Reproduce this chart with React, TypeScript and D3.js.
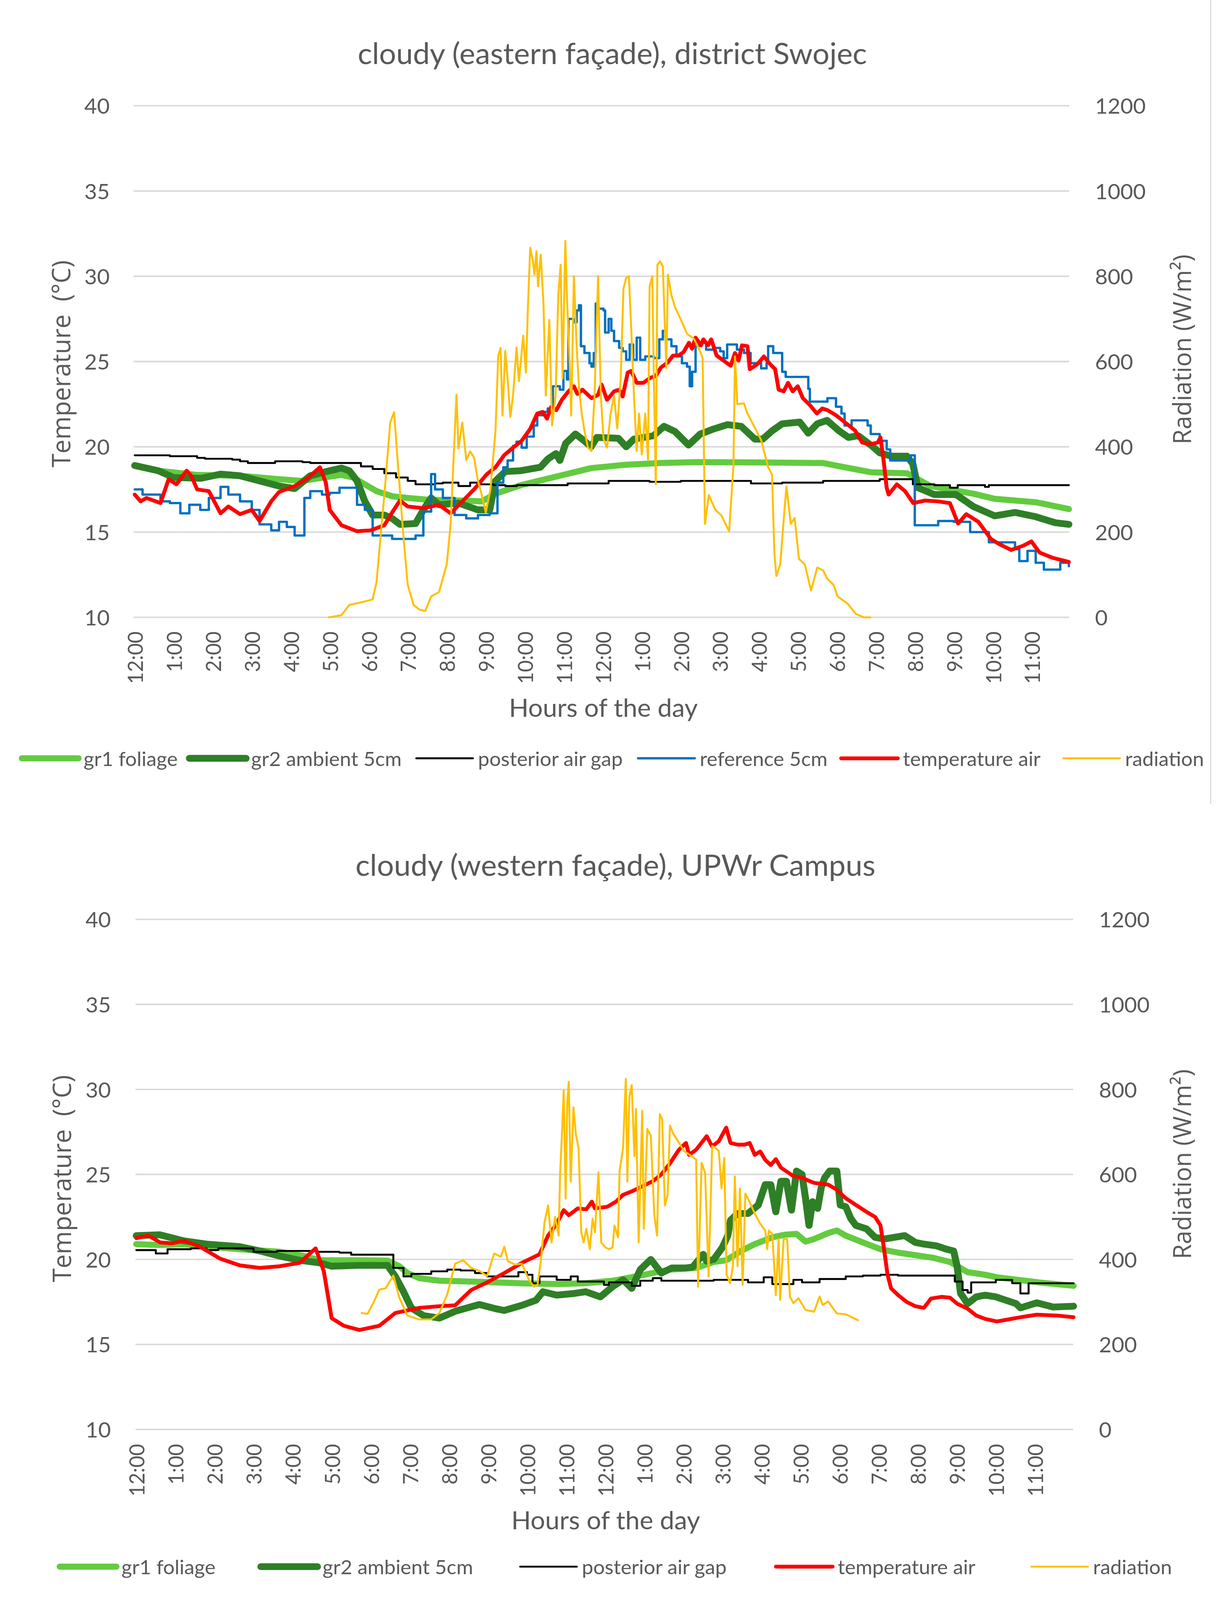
import React from 'react';
import * as d3 from 'd3';

type Pt = [number, number];

// shared axis values
const hourLabels = [
  '12:00', '1:00', '2:00', '3:00', '4:00', '5:00', '6:00', '7:00', '8:00', '9:00', '10:00', '11:00',
  '12:00', '1:00', '2:00', '3:00', '4:00', '5:00', '6:00', '7:00', '8:00', '9:00', '10:00', '11:00',
];
const tempTicks = [10, 15, 20, 25, 30, 35, 40];
const radTicks = [0, 200, 400, 600, 800, 1000, 1200];

// ---- eastern facade, district Swojec: [hour, value]
const eastFoliage: Pt[] = [
  [0, 18.9], [0.6, 18.6], [1.6, 18.35], [2.7, 18.3], [3.7, 18.1], [4.3, 18.0], [4.7, 18.15], [5.3, 18.35],
  [5.6, 18.2], [5.9, 17.8], [6.2, 17.4], [6.6, 17.1], [7.0, 17.0], [7.5, 16.9], [8.3, 16.85], [8.9, 16.8],
  [9.25, 17.25], [9.9, 17.75], [10.8, 18.25], [11.7, 18.75], [12.6, 18.95], [13.5, 19.05], [14.4, 19.1],
  [16.2, 19.08], [17.65, 19.05], [18.2, 18.8], [18.9, 18.5], [19.8, 18.45], [20.0, 18.2], [20.4, 17.7],
  [21.0, 17.45], [21.5, 17.25], [22.05, 16.95], [23.1, 16.75], [23.95, 16.35],
];
const eastAmbient: Pt[] = [
  [0, 18.9], [0.6, 18.6], [1.0, 18.2], [1.7, 18.15], [2.2, 18.4], [2.7, 18.3], [3.2, 18.0], [3.7, 17.7],
  [4.1, 17.55], [4.5, 18.3], [5.0, 18.6], [5.3, 18.75], [5.5, 18.6], [5.7, 18.0], [5.9, 16.8], [6.1, 16.0],
  [6.4, 16.0], [6.6, 15.8], [6.8, 15.45], [7.2, 15.5], [7.4, 16.3], [7.6, 17.0], [7.8, 16.6], [8.3, 16.7],
  [8.8, 16.3], [9.1, 16.3], [9.25, 18.0], [9.5, 18.55], [9.9, 18.6], [10.4, 18.8], [10.6, 19.3], [10.8, 19.6],
  [10.9, 19.2], [11.05, 20.2], [11.3, 20.75], [11.5, 20.4], [11.7, 20.0], [11.85, 20.55], [12.4, 20.5],
  [12.6, 20.0], [12.8, 20.45], [13.3, 20.65], [13.57, 21.2], [13.85, 20.9], [14.2, 20.1], [14.5, 20.75],
  [14.85, 21.05], [15.2, 21.3], [15.55, 21.2], [15.9, 20.45], [16.1, 20.45], [16.35, 20.95], [16.6, 21.35],
  [17.05, 21.45], [17.27, 20.8], [17.5, 21.35], [17.75, 21.55], [18.05, 20.95], [18.3, 20.55], [18.55, 20.65],
  [18.9, 20.05], [19.1, 19.65], [19.4, 19.45], [19.8, 19.45], [19.95, 19.0], [20.08, 17.6], [20.5, 17.2],
  [21.06, 17.2], [21.5, 16.5], [22.05, 15.95], [22.57, 16.15], [23.1, 15.9], [23.6, 15.55], [23.95, 15.45],
];
const eastAirGap: Pt[] = [
  [0, 19.5], [0.9, 19.45], [1.6, 19.35], [1.8, 19.3], [2.5, 19.25], [2.7, 19.15], [2.9, 19.05], [3.4, 19.05],
  [3.6, 19.15], [4.3, 19.1], [4.5, 19.05], [5.5, 19.05], [5.8, 18.85], [6.1, 18.7], [6.4, 18.45], [6.7, 18.2],
  [7.0, 18.0], [7.2, 17.8], [7.7, 17.85], [7.9, 17.9], [8.3, 17.7], [8.6, 17.9], [8.8, 17.8], [9.2, 17.75],
  [9.5, 17.7], [9.8, 17.75], [11.1, 17.85], [12.15, 18.0], [13.2, 17.95], [14.0, 18.0], [15.8, 17.85],
  [16.6, 17.9], [17.65, 18.0], [19.1, 18.1], [19.95, 17.8], [20.5, 17.75], [20.9, 17.6], [21.1, 17.75],
  [21.8, 17.65], [21.9, 17.75], [23.95, 17.75],
];
const eastReference: Pt[] = [
  [0, 17.5], [0.2, 17.2], [0.66, 16.8], [0.9, 16.7], [1.17, 16.1], [1.4, 16.6], [1.68, 16.3], [1.9, 17.0],
  [2.2, 17.65], [2.4, 17.2], [2.7, 16.8], [3.0, 16.3], [3.2, 15.45], [3.5, 15.1], [3.7, 15.6], [3.9, 15.3],
  [4.1, 14.8], [4.35, 17.0], [4.5, 17.4], [4.8, 17.2], [5.0, 17.3], [5.25, 17.6], [5.45, 17.6], [5.7, 16.6],
  [5.9, 16.3], [6.1, 14.8], [6.6, 14.6], [7.2, 14.8], [7.4, 16.2], [7.6, 18.4], [7.7, 17.5], [7.9, 17.0],
  [8.2, 16.0], [8.5, 15.8], [8.8, 16.0], [9.1, 16.1], [9.3, 17.9], [9.45, 18.8], [9.56, 19.2], [9.7, 20.05],
  [9.79, 20.3], [9.92, 19.95], [10.05, 20.6], [10.23, 21.25], [10.32, 21.85], [10.46, 22.05], [10.59, 22.25],
  [10.72, 23.55], [10.9, 23.35], [10.99, 24.45], [11.08, 23.95], [11.12, 27.5], [11.26, 27.3], [11.33, 28.0],
  [11.39, 28.3], [11.44, 25.9], [11.53, 25.5], [11.66, 24.9], [11.71, 24.7], [11.77, 25.5], [11.82, 28.4],
  [11.88, 28.1], [12.02, 28.0], [12.06, 26.7], [12.15, 27.5], [12.22, 26.8], [12.29, 26.2], [12.42, 25.8],
  [12.51, 25.6], [12.6, 25.1], [12.69, 26.0], [12.78, 25.1], [12.87, 26.4], [12.96, 25.1], [13.09, 25.3],
  [13.31, 25.2], [13.45, 26.3], [13.54, 26.8], [13.63, 26.3], [13.76, 25.9], [13.89, 25.3], [14.03, 24.9],
  [14.16, 24.7], [14.23, 23.55], [14.29, 24.4], [14.38, 25.9], [14.47, 26.1], [14.65, 25.7], [14.83, 25.8],
  [15.01, 25.6], [15.1, 25.2], [15.19, 26.0], [15.44, 25.7], [15.62, 25.5], [15.79, 24.9], [16.06, 24.6],
  [16.2, 24.9], [16.24, 25.9], [16.37, 25.5], [16.53, 25.5], [16.6, 24.4], [16.69, 24.1], [17.18, 24.1],
  [17.27, 23.4], [17.31, 22.65], [17.76, 22.85], [17.98, 22.35], [18.12, 21.95], [18.2, 21.25], [18.38, 21.55],
  [18.61, 21.55], [18.79, 21.25], [18.87, 20.75], [19.1, 20.35], [19.28, 19.85], [19.37, 19.2], [19.77, 19.2],
  [19.9, 19.5], [20.0, 15.4], [20.48, 15.4], [20.6, 15.65], [21.0, 15.6], [21.42, 15.0], [21.9, 14.4],
  [22.57, 14.0], [22.68, 13.3], [22.89, 13.9], [23.1, 13.2], [23.31, 12.8], [23.73, 13.2], [23.95, 13.0],
];
const eastAir: Pt[] = [
  [0, 17.2], [0.15, 16.8], [0.3, 17.0], [0.66, 16.7], [0.87, 18.1], [1.07, 17.8], [1.33, 18.6], [1.45, 18.3],
  [1.6, 17.5], [1.9, 17.4], [2.2, 16.1], [2.4, 16.5], [2.7, 16.05], [3.0, 16.3], [3.2, 15.65], [3.5, 16.8],
  [3.7, 17.35], [4.1, 17.7], [4.4, 18.1], [4.75, 18.8], [4.9, 17.9], [5.0, 16.3], [5.3, 15.4], [5.7, 15.05],
  [6.05, 15.1], [6.4, 15.4], [6.6, 16.15], [6.8, 16.85], [7.0, 16.5], [7.4, 16.4], [7.8, 16.6], [8.1, 16.1],
  [8.4, 16.8], [8.7, 17.5], [9.03, 18.4], [9.25, 18.8], [9.47, 19.5], [9.7, 19.95], [9.92, 20.35], [10.14, 21.05],
  [10.32, 21.95], [10.46, 22.05], [10.57, 21.65], [10.68, 22.35], [10.81, 22.15], [10.95, 22.75], [11.12, 23.25],
  [11.26, 23.55], [11.35, 23.1], [11.48, 23.35], [11.71, 22.85], [11.88, 23.05], [11.97, 23.65], [12.11, 22.75],
  [12.29, 23.25], [12.42, 23.35], [12.51, 22.95], [12.64, 24.35], [12.73, 24.45], [12.87, 23.75], [13.04, 23.75],
  [13.22, 24.05], [13.36, 24.15], [13.49, 24.65], [13.67, 24.95], [13.8, 25.35], [13.94, 25.35], [14.07, 25.55],
  [14.21, 26.1], [14.29, 25.75], [14.38, 26.4], [14.52, 25.95], [14.58, 26.3], [14.7, 25.95], [14.78, 26.3],
  [14.92, 25.35], [15.1, 25.05], [15.28, 24.75], [15.39, 25.5], [15.48, 25.05], [15.57, 25.95], [15.71, 25.9],
  [15.77, 24.55], [15.97, 24.85], [16.13, 25.3], [16.29, 24.85], [16.42, 24.55], [16.51, 23.35], [16.64, 23.25],
  [16.75, 23.75], [16.87, 23.25], [17.0, 23.55], [17.13, 22.85], [17.31, 22.45], [17.49, 21.95], [17.63, 22.25],
  [17.76, 22.15], [17.98, 21.85], [18.2, 21.45], [18.47, 20.95], [18.65, 20.25], [18.87, 20.15], [19.05, 20.25],
  [19.12, 20.55], [19.2, 19.2], [19.28, 17.6], [19.33, 17.2], [19.54, 17.8], [19.75, 17.4], [19.96, 16.7],
  [20.27, 16.85], [20.59, 16.8], [20.9, 16.7], [21.11, 15.5], [21.32, 16.05], [21.63, 15.6], [21.95, 14.6],
  [22.16, 14.3], [22.47, 13.95], [22.78, 14.2], [22.99, 14.45], [23.2, 13.8], [23.52, 13.5], [23.95, 13.25],
];
const eastRadiation: Pt[] = [
  [4.98, 0], [5.3, 5], [5.5, 29], [5.8, 35], [6.1, 42], [6.2, 83], [6.4, 287], [6.55, 457], [6.65, 481],
  [6.75, 355], [6.9, 178], [7.0, 76], [7.15, 29], [7.3, 18], [7.45, 15], [7.6, 49], [7.8, 59], [8.0, 124],
  [8.1, 219], [8.2, 423], [8.25, 522], [8.3, 396], [8.4, 457], [8.5, 369], [8.6, 389], [8.7, 375], [8.8, 320],
  [8.89, 290], [9.0, 246], [9.12, 300], [9.25, 438], [9.32, 613], [9.38, 632], [9.43, 473], [9.5, 625],
  [9.56, 560], [9.63, 470], [9.7, 520], [9.79, 633], [9.85, 554], [9.92, 621], [9.96, 661], [10.03, 574],
  [10.08, 725], [10.14, 867], [10.21, 835], [10.25, 804], [10.3, 859], [10.34, 776], [10.41, 851], [10.48, 736],
  [10.54, 520], [10.63, 698], [10.7, 450], [10.79, 520], [10.86, 756], [10.92, 827], [10.97, 560], [11.04, 883],
  [11.08, 756], [11.15, 597], [11.19, 473], [11.26, 800], [11.33, 637], [11.39, 540], [11.46, 478], [11.53, 438],
  [11.62, 398], [11.71, 390], [11.79, 520], [11.88, 800], [11.95, 520], [12.02, 418], [12.11, 398], [12.2, 478],
  [12.29, 520], [12.37, 443], [12.46, 560], [12.53, 771], [12.6, 796], [12.67, 800], [12.73, 677], [12.8, 520],
  [12.87, 390], [12.93, 478], [13.0, 382], [13.09, 478], [13.16, 370], [13.2, 776], [13.27, 800], [13.31, 560],
  [13.36, 312], [13.4, 827], [13.47, 835], [13.54, 823], [13.58, 716], [13.63, 585], [13.67, 804], [13.76, 756],
  [13.85, 728], [14.03, 693], [14.16, 665], [14.34, 653], [14.47, 629], [14.56, 609], [14.62, 219], [14.72, 287],
  [14.88, 253], [15.04, 239], [15.24, 202], [15.35, 355], [15.39, 612], [15.45, 500], [15.62, 502], [15.7, 480],
  [15.88, 448], [16.06, 416], [16.24, 352], [16.34, 335], [16.4, 151], [16.45, 97], [16.55, 124], [16.66, 253],
  [16.71, 307], [16.82, 219], [16.92, 233], [17.03, 137], [17.18, 124], [17.34, 63], [17.5, 117], [17.65, 110],
  [17.76, 90], [17.92, 76], [18.02, 49], [18.28, 32], [18.49, 8], [18.7, 0], [18.86, 0],
];

// ---- western facade, UPWr Campus
const westFoliage: Pt[] = [
  [0, 20.9], [0.6, 20.85], [1.2, 20.9], [1.6, 20.8], [2.65, 20.6], [3.67, 20.45], [4.3, 20.2], [4.7, 19.95],
  [5.7, 19.95], [6.43, 19.93], [6.73, 19.6], [6.94, 19.2], [7.24, 18.9], [7.76, 18.75], [8.78, 18.68],
  [9.8, 18.6], [10.82, 18.55], [11.5, 18.6], [12.2, 18.75], [12.55, 18.9], [13.0, 19.1], [13.66, 19.4],
  [14.33, 19.5], [14.78, 19.85], [15.1, 19.95], [15.48, 20.5], [15.83, 20.9], [16.28, 21.3], [16.59, 21.45],
  [16.9, 21.5], [17.13, 21.05], [17.35, 21.2], [17.71, 21.55], [17.93, 21.7], [18.16, 21.4], [18.6, 21.0],
  [19.05, 20.6], [19.5, 20.4], [20.39, 20.1], [20.83, 19.85], [21.28, 19.25], [21.73, 19.1], [22.03, 18.95],
  [23.1, 18.65], [23.99, 18.45],
];
const westAmbient: Pt[] = [
  [0, 21.4], [0.6, 21.45], [1.2, 21.1], [1.8, 20.9], [2.65, 20.75], [3.16, 20.5], [3.67, 20.2], [4.18, 19.95],
  [4.69, 19.8], [5.0, 19.6], [5.7, 19.65], [6.43, 19.65], [6.63, 19.0], [6.84, 18.1], [7.04, 17.15], [7.35, 16.7],
  [7.76, 16.55], [8.16, 16.95], [8.78, 17.35], [9.2, 17.1], [9.42, 17.0], [9.87, 17.3], [10.23, 17.6],
  [10.41, 18.1], [10.76, 17.9], [11.21, 18.0], [11.5, 18.1], [11.88, 17.8], [12.19, 18.4], [12.46, 18.8],
  [12.68, 18.3], [12.9, 19.4], [13.17, 20.0], [13.44, 19.2], [13.71, 19.5], [14.07, 19.5], [14.24, 19.55],
  [14.33, 19.8], [14.51, 20.3], [14.6, 19.9], [14.78, 20.0], [15.0, 20.7], [15.14, 21.4], [15.21, 22.3],
  [15.39, 22.7], [15.66, 22.7], [15.92, 23.2], [16.1, 24.4], [16.24, 24.4], [16.37, 22.8], [16.5, 24.6],
  [16.64, 24.6], [16.77, 22.9], [16.9, 25.2], [17.04, 25.0], [17.13, 23.6], [17.22, 22.0], [17.31, 23.4],
  [17.44, 23.0], [17.53, 24.2], [17.62, 24.8], [17.75, 25.2], [17.93, 25.2], [18.02, 23.2], [18.16, 23.1],
  [18.29, 22.4], [18.42, 22.0], [18.69, 21.8], [18.91, 21.3], [19.14, 21.2], [19.4, 21.3], [19.67, 21.4],
  [19.94, 21.0], [20.16, 20.9], [20.48, 20.8], [20.74, 20.6], [20.92, 20.5], [21.01, 19.6], [21.1, 18.0],
  [21.28, 17.4], [21.5, 17.8], [21.73, 17.9], [22.0, 17.8], [22.52, 17.4], [22.63, 17.15], [23.05, 17.45],
  [23.47, 17.2], [23.99, 17.25],
];
const westAirGap: Pt[] = [
  [0, 20.55], [0.5, 20.35], [0.8, 20.6], [1.4, 20.65], [1.8, 20.55], [2.1, 20.65], [3.0, 20.45], [3.6, 20.5],
  [4.6, 20.45], [5.2, 20.4], [5.5, 20.28], [6.5, 20.28], [6.58, 19.5], [6.84, 19.0], [7.04, 19.15], [7.55, 19.3],
  [7.96, 19.4], [8.3, 19.35], [8.67, 19.2], [8.98, 19.0], [9.4, 19.0], [9.78, 19.25], [10.0, 19.1], [10.14, 18.6],
  [10.32, 19.0], [10.76, 18.8], [11.12, 19.0], [11.3, 18.7], [11.97, 18.5], [12.1, 18.65], [12.68, 18.45],
  [12.9, 18.75], [13.22, 18.9], [13.44, 18.75], [14.78, 18.8], [15.66, 18.65], [16.06, 18.95], [16.28, 18.55],
  [16.82, 18.8], [17.04, 18.65], [17.49, 18.85], [18.16, 19.0], [18.6, 19.05], [19.05, 19.1], [19.5, 19.05],
  [20.9, 19.05], [20.95, 18.7], [21.15, 18.2], [21.28, 18.05], [21.37, 18.65], [22.0, 18.8], [22.42, 18.6],
  [22.63, 18.0], [22.84, 18.6], [23.99, 18.6],
];
const westAir: Pt[] = [
  [0, 21.25], [0.31, 21.4], [0.61, 21.0], [0.92, 20.95], [1.22, 21.1], [1.63, 20.75], [2.14, 20.05],
  [2.65, 19.65], [3.16, 19.5], [3.67, 19.6], [4.18, 19.8], [4.59, 20.65], [4.8, 19.3], [5.0, 16.55],
  [5.31, 16.1], [5.71, 15.85], [6.22, 16.1], [6.63, 16.85], [7.24, 17.15], [7.76, 17.25], [8.16, 17.3],
  [8.57, 18.2], [8.98, 18.65], [9.42, 19.2], [9.87, 19.8], [10.32, 20.3], [10.54, 21.4], [10.76, 22.1],
  [10.94, 22.9], [11.07, 22.6], [11.3, 23.0], [11.52, 22.95], [11.66, 23.4], [11.74, 23.0], [12.06, 23.1],
  [12.28, 23.4], [12.46, 23.8], [12.68, 24.0], [12.86, 24.2], [13.22, 24.6], [13.44, 25.0], [13.66, 25.65],
  [13.89, 26.45], [14.07, 26.85], [14.15, 26.15], [14.33, 26.45], [14.6, 27.25], [14.74, 26.65], [14.91, 26.95],
  [15.1, 27.75], [15.21, 26.85], [15.39, 26.75], [15.57, 26.75], [15.7, 26.85], [15.83, 26.15], [15.97, 26.35],
  [16.1, 25.85], [16.24, 25.55], [16.37, 25.9], [16.5, 25.4], [16.82, 24.9], [17.04, 24.8], [17.35, 24.5],
  [17.71, 24.4], [17.93, 24.1], [18.16, 23.6], [18.42, 23.2], [18.69, 22.8], [18.91, 22.5], [19.05, 22.0],
  [19.14, 20.6], [19.23, 19.1], [19.32, 18.3], [19.5, 17.9], [19.72, 17.5], [19.94, 17.25], [20.16, 17.15],
  [20.34, 17.7], [20.61, 17.8], [20.83, 17.75], [21.01, 17.4], [21.28, 17.1], [21.5, 16.7], [21.73, 16.5],
  [22.03, 16.35], [22.63, 16.6], [23.05, 16.75], [23.57, 16.7], [23.99, 16.6],
];
const westRadiation: Pt[] = [
  [5.77, 274], [5.92, 272], [6.07, 298], [6.22, 329], [6.38, 332], [6.58, 362], [6.73, 311], [6.94, 268],
  [7.24, 259], [7.55, 259], [7.76, 274], [7.96, 318], [8.16, 390], [8.37, 398], [8.57, 380], [8.78, 373],
  [8.98, 361], [9.16, 414], [9.33, 406], [9.42, 430], [9.51, 396], [9.69, 388], [9.87, 390], [10.05, 352],
  [10.18, 336], [10.27, 340], [10.36, 400], [10.45, 488], [10.54, 527], [10.63, 440], [10.72, 500], [10.81, 456],
  [10.85, 607], [10.9, 703], [10.94, 798], [10.99, 543], [11.03, 766], [11.07, 818], [11.12, 583], [11.19, 758],
  [11.25, 695], [11.32, 663], [11.39, 464], [11.45, 440], [11.52, 472], [11.61, 424], [11.68, 496], [11.74, 464],
  [11.83, 605], [11.9, 440], [12.01, 428], [12.1, 424], [12.19, 428], [12.24, 480], [12.33, 452], [12.37, 607],
  [12.46, 663], [12.53, 825], [12.57, 583], [12.62, 782], [12.68, 810], [12.75, 643], [12.79, 754], [12.86, 440],
  [12.95, 750], [12.99, 472], [13.08, 707], [13.17, 691], [13.26, 504], [13.33, 456], [13.4, 742], [13.46, 730],
  [13.53, 527], [13.6, 551], [13.66, 715], [13.75, 695], [13.89, 675], [14.02, 655], [14.15, 647], [14.33, 635],
  [14.38, 336], [14.47, 627], [14.56, 603], [14.65, 360], [14.74, 667], [14.82, 663], [14.91, 655], [14.98, 567],
  [15.05, 639], [15.11, 364], [15.2, 344], [15.27, 384], [15.32, 595], [15.39, 384], [15.45, 567], [15.52, 340],
  [15.59, 555], [15.7, 535], [15.83, 508], [15.97, 484], [16.1, 468], [16.15, 424], [16.19, 468], [16.28, 460],
  [16.37, 316], [16.44, 448], [16.48, 305], [16.57, 448], [16.66, 448], [16.73, 313], [16.82, 297], [16.95, 309],
  [17.13, 281], [17.35, 277], [17.49, 313], [17.57, 293], [17.71, 301], [17.93, 273], [18.16, 271], [18.47, 257],
];

type Series = {
  name: string;
  data: Pt[];
  color: string;
  width: number;
  secondary?: boolean;
  step?: boolean;
};

const LIGHT_GREEN = '#63cb3f';
const DARK_GREEN = '#2f7f27';
const BLUE = '#0070c0';
const RED = '#ff0000';
const YELLOW = '#ffc000';
const TEXT = '#595959';
const GRID = '#d9d9d9';

type PanelProps = {
  title: string;
  titleX: number;
  titleY: number;
  series: Series[];
  x0: number;
  x1: number;
  top: number;
  bottom: number;
  gridX0: number;
  gridX1: number;
  leftLabelX: number;
  rightLabelX: number;
  tickLabelY: number;
  xTitle: [number, number];
  yTitleL: [number, number];
  yTitleR: [number, number];
  legendY: number;
  legendX: number[];
};

function Panel(p: PanelProps) {
  const x = d3.scaleLinear().domain([0, 24]).range([p.x0, p.x1]);
  const yT = d3.scaleLinear().domain([10, 40]).range([p.bottom, p.top]);
  const yR = d3.scaleLinear().domain([0, 1200]).range([p.bottom, p.top]);

  const pathFor = (s: Series) => {
    const y = s.secondary ? yR : yT;
    return d3.line<Pt>()
      .x((d) => x(d[0]))
      .y((d) => y(d[1]))
      .curve(s.step ? d3.curveStepAfter : d3.curveLinear)(s.data) ?? '';
  };

  return (
    <g>
      <text x={p.titleX} y={p.titleY} textAnchor="middle" fontFamily="Lato" fontSize={77} fill={TEXT}>
        {p.title}
      </text>

      {/* gridlines + both value axes */}
      {tempTicks.map((t, i) => (
        <g key={t}>
          <line x1={p.gridX0} x2={p.gridX1} y1={yT(t)} y2={yT(t)} stroke={GRID} strokeWidth={4} />
          <text x={p.leftLabelX} y={yT(t)} textAnchor="end" dominantBaseline="central"
            fontFamily="Lato" fontSize={56} fill={TEXT}>{t}</text>
          <text x={p.rightLabelX} y={yR(radTicks[i])} dominantBaseline="central"
            fontFamily="Lato" fontSize={56} fill={TEXT}>{radTicks[i]}</text>
        </g>
      ))}

      {/* hour labels */}
      {hourLabels.map((lab, i) => (
        <text key={i} transform={`translate(${x(i)},${p.tickLabelY}) rotate(-90)`}
          textAnchor="end" dominantBaseline="central" fontFamily="Lato" fontSize={54} fill={TEXT}>
          {lab}
        </text>
      ))}

      {p.series.map((s) => (
        <path key={s.name} d={pathFor(s)} fill="none" stroke={s.color} strokeWidth={s.width}
          strokeLinejoin="round" strokeLinecap="round" />
      ))}

      <text x={p.xTitle[0]} y={p.xTitle[1]} textAnchor="middle" fontFamily="Lato" fontSize={66} fill={TEXT}>
        Hours of the day
      </text>
      <text transform={`translate(${p.yTitleL[0]},${p.yTitleL[1]}) rotate(-90)`} textAnchor="middle"
        dominantBaseline="central" fontFamily="Open Sans" fontSize={66} fill={TEXT}>
        {'Temperature\u00a0 (°C)'}
      </text>
      <text transform={`translate(${p.yTitleR[0]},${p.yTitleR[1]}) rotate(-90)`} textAnchor="middle"
        dominantBaseline="central" fontFamily="Open Sans" fontSize={64} fill={TEXT}>
        Radiation (W/m²)
      </text>

      {/* legend */}
      {p.series.map((s, i) => (
        <g key={s.name} transform={`translate(${p.legendX[i]},${p.legendY})`}>
          <line x1={0} x2={145} y1={0} y2={0} stroke={s.color} strokeWidth={Math.max(s.width, 5)}
            strokeLinecap="round" />
          <text x={158} y={0} dominantBaseline="central" fontFamily="Lato" fontSize={52} fill={TEXT}>
            {s.name}
          </text>
        </g>
      ))}
    </g>
  );
}

const eastSeries: Series[] = [
  { name: 'gr1 foliage', data: eastFoliage, color: LIGHT_GREEN, width: 16 },
  { name: 'gr2 ambient 5cm', data: eastAmbient, color: DARK_GREEN, width: 18 },
  { name: 'posterior air gap', data: eastAirGap, color: '#000000', width: 5, step: true },
  { name: 'reference 5cm', data: eastReference, color: BLUE, width: 6, step: true },
  { name: 'temperature air', data: eastAir, color: RED, width: 10 },
  { name: 'radiation', data: eastRadiation, color: YELLOW, width: 5, secondary: true },
];

const westSeries: Series[] = [
  { name: 'gr1 foliage', data: westFoliage, color: LIGHT_GREEN, width: 16 },
  { name: 'gr2 ambient 5cm', data: westAmbient, color: DARK_GREEN, width: 18 },
  { name: 'posterior air gap', data: westAirGap, color: '#000000', width: 5, step: true },
  { name: 'temperature air', data: westAir, color: RED, width: 10 },
  { name: 'radiation', data: westRadiation, color: YELLOW, width: 5, secondary: true },
];

export default function App() {
  return (
    <>
      <style>{'html,body{margin:0;padding:0;overflow:hidden;background:#fff}'}</style>
      <svg viewBox="0 0 3142 4222" preserveAspectRatio="none"
        style={{ position: 'fixed', left: 0, top: 0, width: '100vw', height: '100vh', display: 'block' }}>
        <rect width={3142} height={4222} fill="#fff" />
        <line x1={3100} x2={3100} y1={0} y2={2121} stroke={GRID} strokeWidth={3} />
        <Panel
          title="cloudy (eastern façade), district Swojec"
          titleX={1568} titleY={169}
          series={eastSeries}
          x0={345} x1={2742} top={279} bottom={1629}
          gridX0={342} gridX1={2738}
          leftLabelX={281} rightLabelX={2804}
          tickLabelY={1666}
          xTitle={[1545, 1891]}
          yTitleL={[155, 960]}
          yTitleR={[3025, 922]}
          legendY={2001}
          legendX={[56, 485, 1066, 1634, 2154, 2723]}
        />
        <Panel
          title="cloudy (western façade), UPWr Campus"
          titleX={1576} titleY={2311}
          series={westSeries}
          x0={349} x1={2750} top={2426} bottom={3772}
          gridX0={347} gridX1={2748}
          leftLabelX={284} rightLabelX={2814}
          tickLabelY={3810}
          xTitle={[1551, 4035]}
          yTitleL={[157, 3110]}
          yTitleR={[3025, 3072]}
          legendY={4134}
          legendX={[153, 668, 1332, 1987, 2641]}
        />
      </svg>
    </>
  );
}
